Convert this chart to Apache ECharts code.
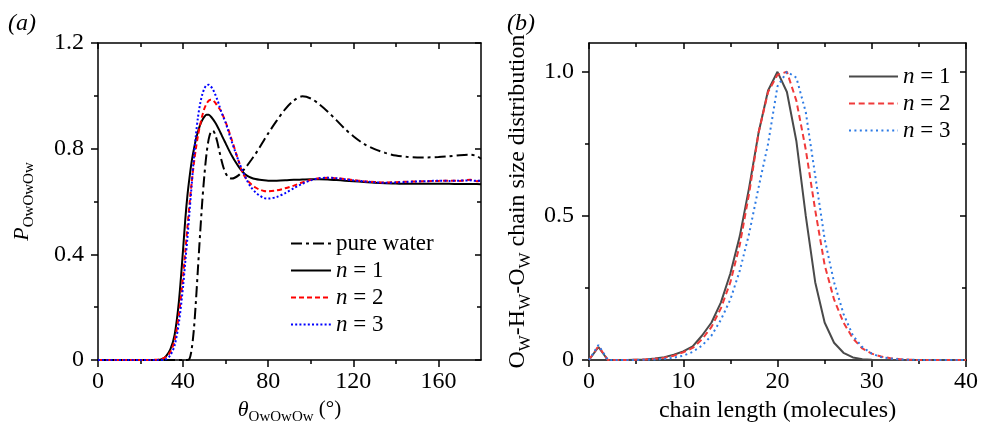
<!DOCTYPE html>
<html><head><meta charset="utf-8">
<script src="https://cdn.jsdelivr.net/npm/echarts@6/dist/echarts.min.js"></script>
<style>html,body{margin:0;padding:0;background:#fff}#c{width:981px;height:430px}</style>
</head><body><div id="c"></div>
<script>
// ---------- Panel (a) data ----------
const theta = [0,20,28,30,32,34,36,38,40,41,42,43,44,45,46,47,48,49,50,51,52,53,54,55,56,57,58,59,60,61,62,63,64,66,68,70,72,74,76,78,80,84,88,92,96,100,104,108,112,116,120,125,130,135,140,145,150,155,160,165,170,175,178,180];
const pureWater = [0,0,0,0,0,0,0,0,0,0,0,0.004,0.04,0.11,0.22,0.35,0.48,0.6,0.7,0.78,0.835,0.863,0.868,0.855,0.828,0.792,0.757,0.728,0.707,0.694,0.688,0.687,0.689,0.699,0.715,0.735,0.757,0.78,0.805,0.832,0.858,0.906,0.95,0.982,0.998,0.99,0.968,0.94,0.908,0.875,0.847,0.818,0.798,0.784,0.774,0.769,0.767,0.767,0.768,0.771,0.775,0.777,0.772,0.762];
const aN1 = [0,0,0,0.003,0.015,0.04,0.095,0.22,0.42,0.53,0.62,0.69,0.75,0.795,0.835,0.865,0.89,0.908,0.921,0.928,0.928,0.922,0.912,0.9,0.886,0.87,0.853,0.836,0.82,0.803,0.787,0.772,0.758,0.733,0.712,0.698,0.69,0.685,0.682,0.68,0.679,0.679,0.68,0.682,0.683,0.684,0.684,0.683,0.681,0.679,0.677,0.674,0.671,0.669,0.668,0.667,0.667,0.667,0.667,0.667,0.666,0.666,0.666,0.665];
const aN2 = [0,0,0.001,0.004,0.012,0.03,0.075,0.17,0.32,0.41,0.5,0.59,0.67,0.74,0.8,0.85,0.89,0.925,0.952,0.97,0.981,0.985,0.983,0.975,0.963,0.952,0.94,0.92,0.9,0.878,0.855,0.83,0.805,0.755,0.708,0.682,0.665,0.653,0.645,0.64,0.639,0.642,0.65,0.66,0.672,0.682,0.688,0.69,0.688,0.685,0.681,0.677,0.674,0.672,0.673,0.675,0.676,0.677,0.678,0.679,0.678,0.682,0.677,0.68];
const aN3 = [0,0,0,0,0.003,0.018,0.055,0.14,0.28,0.37,0.46,0.56,0.66,0.76,0.85,0.92,0.97,1.005,1.028,1.04,1.042,1.036,1.024,1.007,0.987,0.963,0.938,0.918,0.898,0.873,0.848,0.823,0.8,0.755,0.715,0.68,0.653,0.635,0.622,0.613,0.611,0.617,0.632,0.65,0.667,0.68,0.688,0.69,0.688,0.684,0.68,0.676,0.673,0.671,0.672,0.674,0.676,0.677,0.679,0.678,0.679,0.68,0.678,0.679];
const xTicksA = [0,40,80,120,160];
const xMinorA = [20,60,100,140];
const yTicksA = [0,0.4,0.8,1.2];
const yMinorA = [0.2,0.6,1.0];

// ---------- Panel (b) data ----------
const chainLength = [0,1,2,3,4,5,6,7,8,9,10,11,12,13,14,15,16,17,18,19,20,21,22,23,24,25,26,27,28,29,30,31,32,33,34,35,36,37,38,39,40];
const bN1 = [0,0.045,0,0,0,0.001,0.002,0.005,0.01,0.018,0.03,0.047,0.085,0.13,0.2,0.3,0.43,0.6,0.79,0.935,1.0,0.93,0.76,0.5,0.27,0.13,0.06,0.025,0.009,0.003,0.001,0,0,0,0,0,0,0,0,0,0];
const bN2 = [0,0.048,0,0,0,0.001,0.002,0.004,0.008,0.015,0.027,0.042,0.072,0.115,0.18,0.27,0.4,0.58,0.79,0.93,0.99,1.0,0.9,0.73,0.52,0.33,0.21,0.13,0.075,0.04,0.022,0.012,0.006,0.003,0.001,0,0,0,0,0,0];
const bN3 = [0,0.052,0,0,0,0,0.001,0.002,0.004,0.008,0.015,0.028,0.05,0.085,0.14,0.21,0.31,0.44,0.6,0.75,0.95,1.0,0.98,0.86,0.64,0.42,0.27,0.16,0.085,0.045,0.022,0.01,0.005,0.002,0.001,0,0,0,0,0,0];
const xTicksB = [0,10,20,30,40];
const xMinorB = [5,15,25,35];
const yTicksB = [0,0.5,1.0];
const yMinorB = [0.25,0.75];

const FONT = 'Liberation Serif';
const lineSty = {color:'#000', width:1.5};
function ax(o){
  return Object.assign({type:'value', splitLine:{show:false}, axisLine:{show:false, onZero:false},
    axisTick:{show:false}, axisLabel:{show:false}, minorTick:{show:false}, minorSplitLine:{show:false}}, o);
}
function ticks(vals, len, inside){ return {show:true, customValues: vals, length: len, inside: inside, lineStyle: lineSty}; }
function line(){ return {show:true, onZero:false, lineStyle: lineSty}; }
function labels(vals, fmt, margin){ return {show:true, customValues: vals, formatter: fmt, margin: margin, fontFamily: FONT, fontSize: 24, color:'#000'}; }
const yfmt = v => v === 0 ? '0' : v.toFixed(1);
const xfmt = v => String(v);

const nameRichA = {
  it: {fontFamily: FONT, fontSize: 22, fontStyle:'italic', color:'#000', lineHeight: 30, verticalAlign:'middle'},
  n:  {fontFamily: FONT, fontSize: 21, color:'#000', lineHeight: 30, verticalAlign:'middle'},
  s:  {fontFamily: FONT, fontSize: 15, color:'#000', lineHeight: 14, verticalAlign:'bottom'}
};
const nameRichB = {
  n:  {fontFamily: FONT, fontSize: 24, color:'#000', lineHeight: 32, verticalAlign:'middle'},
  s:  {fontFamily: FONT, fontSize: 17, color:'#000', lineHeight: 15, verticalAlign:'bottom'}
};

const xAxis = [
  ax({gridIndex:0, min:0, max:180, position:'bottom', axisLine: line(), axisTick: ticks(xTicksA,7,false), axisLabel: labels(xTicksA, xfmt, 10),
      name:'{it|θ}{s|OwOwOw}{n| (°)}', nameLocation:'middle', nameGap:34, nameTextStyle:{fontFamily:FONT, fontSize:21, color:'#000', rich: nameRichA}}),
  ax({gridIndex:0, min:0, max:180, position:'bottom', axisTick: ticks(xMinorA,4,false)}),
  ax({gridIndex:0, min:0, max:180, position:'top', axisLine: line(), axisTick: ticks(xTicksA,6,true)}),
  ax({gridIndex:0, min:0, max:180, position:'top', axisTick: ticks(xMinorA,4,true)}),
  ax({gridIndex:1, min:0, max:40, position:'bottom', axisLine: line(), axisTick: ticks(xTicksB,7,false), axisLabel: labels(xTicksB, xfmt, 10),
      name:'chain length (molecules)', nameLocation:'middle', nameGap:37, nameTextStyle:{fontFamily:FONT, fontSize:24, color:'#000'}}),
  ax({gridIndex:1, min:0, max:40, position:'bottom', axisTick: ticks(xMinorB,4,false)}),
  ax({gridIndex:1, min:0, max:40, position:'top', axisLine: line(), axisTick: ticks(xTicksB,6,true)}),
  ax({gridIndex:1, min:0, max:40, position:'top', axisTick: ticks(xMinorB,4,true)})
];
const yAxis = [
  ax({gridIndex:0, min:0, max:1.2, position:'left', axisLine: line(), axisTick: ticks(yTicksA,7,false), axisLabel: labels(yTicksA, yfmt, 14),
      name:'{it|P}{s|OwOwOw}', nameLocation:'middle', nameRotate:90, nameGap:61, nameTextStyle:{fontFamily:FONT, fontSize:21, color:'#000', rich: nameRichA}}),
  ax({gridIndex:0, min:0, max:1.2, position:'left', axisTick: ticks(yMinorA,4,false)}),
  ax({gridIndex:0, min:0, max:1.2, position:'right', axisLine: line(), axisTick: ticks(yTicksA,6,true)}),
  ax({gridIndex:0, min:0, max:1.2, position:'right', axisTick: ticks(yMinorA,4,true)}),
  ax({gridIndex:1, min:0, max:1.1, position:'left', axisLine: line(), axisTick: ticks(yTicksB,7,false), axisLabel: labels(yTicksB, yfmt, 15),
      name:'{n|O}{s|W}{n|-H}{s|W}{n|-O}{s|W}{n| chain size distribution}', nameLocation:'middle', nameRotate:90, nameGap:55, nameTextStyle:{fontFamily:FONT, fontSize:24, color:'#000', rich: nameRichB}}),
  ax({gridIndex:1, min:0, max:1.1, position:'left', axisTick: ticks(yMinorB,4,false)}),
  ax({gridIndex:1, min:0, max:1.1, position:'right', axisLine: line(), axisTick: ticks(yTicksB,6,true)}),
  ax({gridIndex:1, min:0, max:1.1, position:'right', axisTick: ticks(yMinorB,4,true)})
];

function pairs(xs, ys){ return xs.map((x,i)=>[x, ys[i]]); }
function ser(name, xi, xs, ys, color, type, smooth){
  return {type:'line', name, xAxisIndex: xi, yAxisIndex: xi, data: pairs(xs, ys), symbol:'none', showSymbol:false,
    smooth: smooth, lineStyle:{color, width:2, type}, itemStyle:{color}, z: 3};
}

const LEG = {
  'pure water':'pure water', a1:'{i|n} = 1', a2:'{i|n} = 2', a3:'{i|n} = 3',
  b1:'{i|n} = 1', b2:'{i|n} = 2', b3:'{i|n} = 3'
};
const legText = {fontFamily: FONT, fontSize: 23, color:'#000', lineHeight: 20,
  rich:{i:{fontFamily: FONT, fontSize: 23, fontStyle:'italic', color:'#000', lineHeight:20}}};

const option = {
  animation:false,
  backgroundColor:'#fff',
  grid:[
    {left:98, top:43, width:383, height:317},
    {left:589, top:43, width:380, height:317}
  ],
  xAxis, yAxis,
  legend:[
    {left:290, top:232, padding:0, orient:'vertical', itemWidth:40, itemHeight:14, itemGap:4, selectedMode:false,
     itemStyle:{opacity:0}, data:['pure water','a1','a2','a3'], formatter: n => LEG[n], textStyle: legText},
    {left:848, top:65, padding:0, orient:'vertical', itemWidth:49, itemHeight:14, itemGap:4, selectedMode:false,
     itemStyle:{opacity:0}, data:['b1','b2','b3'], formatter: n => LEG[n], textStyle: legText}
  ],
  graphic:[
    {type:'text', left:8, top:12, style:{text:'(a)', fontFamily:FONT, fontSize:24, fontStyle:'italic', fill:'#000'}},
    {type:'text', left:507, top:12, style:{text:'(b)', fontFamily:FONT, fontSize:24, fontStyle:'italic', fill:'#000'}}
  ],
  series:[
    ser('pure water', 0, theta, pureWater, '#000', [11,4,3,4], 0.3),
    ser('a1', 0, theta, aN1, '#000', 'solid', 0.3),
    ser('a2', 0, theta, aN2, '#ff0000', [5,3], 0.3),
    ser('a3', 0, theta, aN3, '#0000ff', [2,2.2], 0.3),
    ser('b1', 4, chainLength, bN1, '#4a4a4a', 'solid', false),
    ser('b2', 4, chainLength, bN2, '#f03a3a', [6,3.7], false),
    ser('b3', 4, chainLength, bN3, '#2d7be5', [2,3.4], false)
  ]
};
const chart = echarts.init(document.getElementById('c'), null, {renderer:'canvas'});
chart.setOption(option);
</script></body></html>
